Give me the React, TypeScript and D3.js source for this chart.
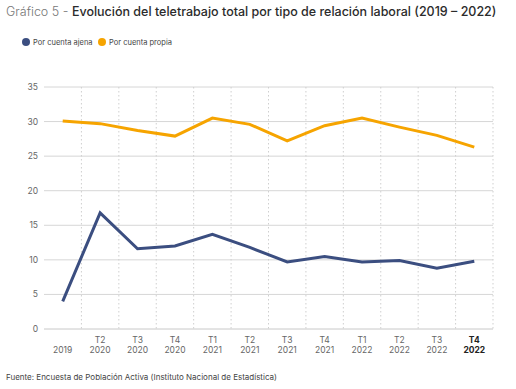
import React, { useRef, useEffect } from 'react';
import * as d3 from 'd3';

const quarters = ['', 'T2', 'T3', 'T4', 'T1', 'T2', 'T3', 'T4', 'T1', 'T2', 'T3', 'T4'];
const years = ['2019', '2020', '2020', '2020', '2021', '2021', '2021', '2021', '2022', '2022', '2022', '2022'];
const ajena = [4.0, 16.8, 11.6, 12.0, 13.7, 11.8, 9.7, 10.5, 9.7, 9.9, 8.8, 9.8];
const propia = [30.1, 29.7, 28.7, 27.9, 30.5, 29.6, 27.2, 29.4, 30.5, 29.2, 28.0, 26.3];
const yTicks = [0, 5, 10, 15, 20, 25, 30, 35];

const BLUE = '#3b4e80';
const ORANGE = '#f6a400';

export default function App() {
  const svgRef = useRef<SVGSVGElement>(null);

  useEffect(() => {
    if (!svgRef.current) return;
    const svg = d3.select(svgRef.current);
    svg.selectAll('*').remove();

    const font = 'Inter, "Open Sans", sans-serif';
    const left = 44;
    const right = 493;
    const top = 87;
    const bottom = 329;

    const keys = quarters.map((_, i) => String(i));
    const x = d3.scaleBand().domain(keys).range([left, right]);
    const y = d3.scaleLinear().domain([0, 35]).range([bottom, top]);

    // title
    const title = svg.append('text').attr('x', 6).attr('y', 16).attr('font-family', font).attr('font-size', 12.5);
    title.append('tspan').attr('fill', '#777').attr('font-weight', 300).text('Gráfico 5 - ');
    title.append('tspan').attr('fill', '#2b2b2b').attr('font-weight', 500).text('Evolución del teletrabajo total por tipo de relación laboral (2019 – 2022)');

    // legend
    const legend = [
      { label: 'Por cuenta ajena', color: BLUE, x: 26 },
      { label: 'Por cuenta propia', color: ORANGE, x: 102 },
    ];
    legend.forEach((l) => {
      svg.append('circle').attr('cx', l.x).attr('cy', 42).attr('r', 4).attr('fill', l.color);
      svg.append('text').attr('x', l.x + 7).attr('y', 45).attr('font-family', font).attr('font-size', 7.5).attr('fill', '#444').text(l.label);
    });

    // horizontal grid
    svg.append('g')
      .selectAll('line')
      .data(yTicks)
      .enter()
      .append('line')
      .attr('x1', left)
      .attr('x2', right)
      .attr('y1', (d) => y(d))
      .attr('y2', (d) => y(d))
      .attr('stroke', (d) => (d === 0 ? '#c8c8c8' : '#d6d6d6'))
      .attr('stroke-width', 1);

    // vertical dotted separators
    svg.append('g')
      .selectAll('line')
      .data(keys.slice(1).concat(['end']))
      .enter()
      .append('line')
      .attr('x1', (d) => (d === 'end' ? right : x(d)!))
      .attr('x2', (d) => (d === 'end' ? right : x(d)!))
      .attr('y1', top)
      .attr('y2', bottom)
      .attr('stroke', '#cfcfcf')
      .attr('stroke-width', 1)
      .attr('stroke-dasharray', '1.5,2.5');

    // y labels
    svg.append('g')
      .selectAll('text')
      .data(yTicks)
      .enter()
      .append('text')
      .attr('x', 38)
      .attr('y', (d) => y(d) + 3)
      .attr('text-anchor', 'end')
      .attr('font-family', font)
      .attr('font-size', 8.5)
      .attr('fill', '#666')
      .text((d) => d);

    // x labels
    keys.forEach((k, i) => {
      const cx = x(k)! + x.bandwidth() / 2;
      const bold = i === keys.length - 1;
      const t = svg.append('text').attr('text-anchor', 'middle').attr('font-family', font).attr('font-size', 8.5)
        .attr('fill', bold ? '#222' : '#666').attr('font-weight', bold ? 700 : 400);
      if (quarters[i]) {
        t.append('tspan').attr('x', cx).attr('y', 343).text(quarters[i]);
      }
      t.append('tspan').attr('x', cx).attr('y', 353).text(years[i]);
    });

    // lines
    const line = d3
      .line<number>()
      .x((_, i) => x(keys[i])! + x.bandwidth() / 2)
      .y((d) => y(d));

    [
      { data: propia, color: ORANGE },
      { data: ajena, color: BLUE },
    ].forEach((s) => {
      svg.append('path')
        .attr('d', line(s.data))
        .attr('fill', 'none')
        .attr('stroke', s.color)
        .attr('stroke-width', 3)
        .attr('stroke-linejoin', 'miter');
    });

    // footer
    svg.append('text').attr('x', 6).attr('y', 380).attr('font-family', font).attr('font-size', 8)
      .attr('fill', '#444').text('Fuente: Encuesta de Población Activa (Instituto Nacional de Estadística)');
  }, []);

  return (
    <svg
      ref={svgRef}
      width={516}
      height={389}
      style={{ position: 'absolute', left: 0, top: 0, background: '#fff', display: 'block' }}
    />
  );
}
